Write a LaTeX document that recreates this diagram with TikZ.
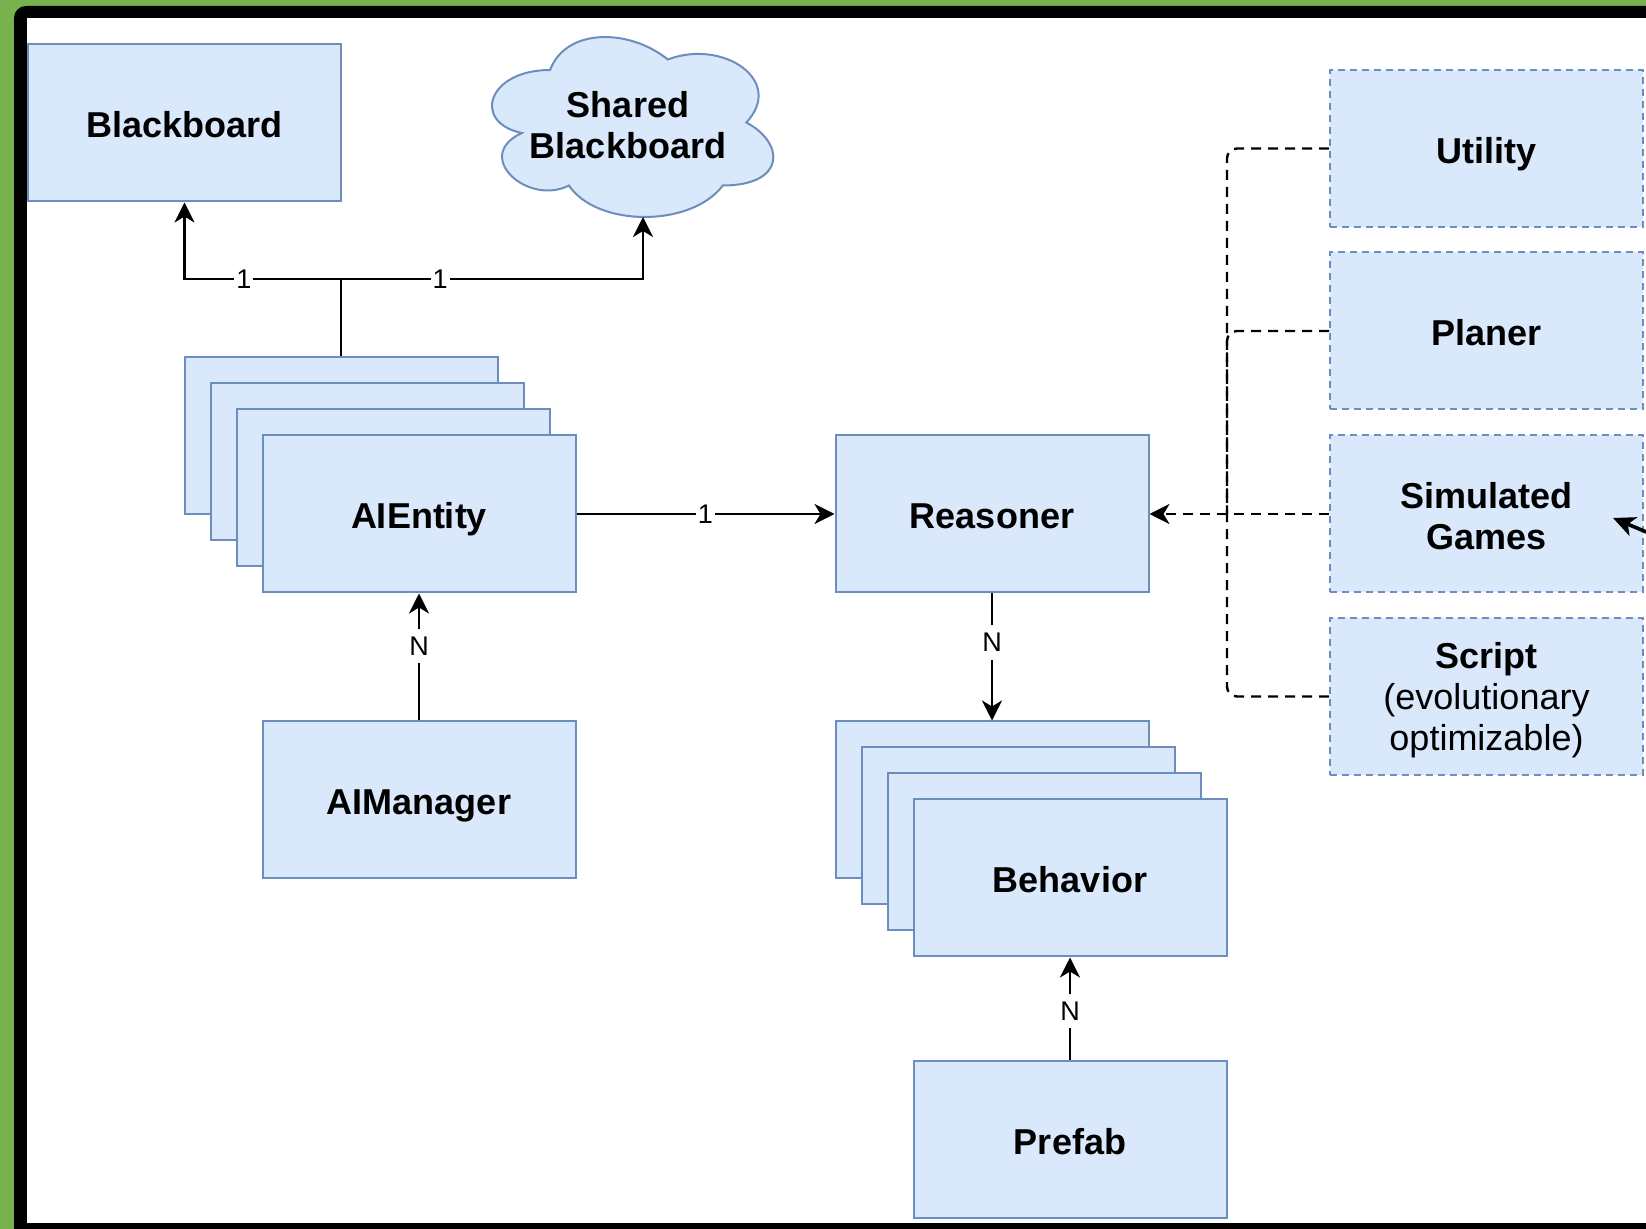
\documentclass[tikz,border=0pt]{standalone}
\usepackage{fontspec}
\setmainfont{Liberation Sans}
\usetikzlibrary{arrows.meta}
\definecolor{boxfill}{HTML}{DAE8FC}
\definecolor{boxline}{HTML}{6C8EBF}
\definecolor{framegreen}{RGB}{120,178,78}
\newcommand{\firstrule}{\rule{0pt}{17pt}}
\newcommand{\lastrule}{\rule[-2.1pt]{0pt}{2.1pt}}

\begin{document}
\begin{tikzpicture}[x=0.5pt,y=-0.5pt,
    box/.style={draw=boxline, fill=boxfill, line width=1pt, minimum width=156.5pt, minimum height=78.5pt,
      inner sep=0pt, align=center, font=\bfseries\fontsize{18}{20.5}\selectfont},
    single/.style={text height=17pt, text depth=2.1pt},
    option/.style={box, dash pattern=on 3.5pt off 2.5pt},
    link/.style={line width=1.3pt},
    arrowed/.style={-{Stealth[length=10pt,width=10pt,inset=3pt]}},
    dep/.style={line width=1.2pt, dash pattern=on 5pt off 3.5pt, rounded corners=5pt},
    lbl/.style={fill=white, inner xsep=1pt, inner ysep=4pt, font=\fontsize{13.5}{13.5}\selectfont}]
			% screenshot frame
			\path[use as bounding box, clip] (0,0) rectangle (1646,1229);
			\fill[framegreen] (0,0) rectangle (1646,1229);
			\fill[black, rounded corners=6pt] (14,6) rectangle (1720,1300);
			\fill[white] (27,18) rectangle (1720,1223);
			% blackboards
			\node[box,single] (blackboard) at (184.5,123) {Blackboard};
			\begin{scope}[shift={(471.6,17.5)}, x=157pt, y=-105pt]
				\draw[draw=boxline, fill=boxfill, line width=1pt] (0.25,0.25) .. controls (0.05,0.25) and (0,0.5) .. (0.16,0.55)
					.. controls (0,0.66) and (0.18,0.9) .. (0.31,0.8)
					.. controls (0.4,1) and (0.7,1) .. (0.8,0.8)
					.. controls (1,0.8) and (1,0.6) .. (0.875,0.5)
					.. controls (1,0.3) and (0.8,0.1) .. (0.625,0.2)
					.. controls (0.5,0.05) and (0.3,0.05) .. (0.25,0.25) -- cycle;
			\end{scope}
			\node[align=center, font=\bfseries\fontsize{18}{20.5}\selectfont] (shared) at (628,123.5) {\firstrule Shared\\Blackboard\lastrule};
			\coordinate (sharedIn) at (643,217);
			% entities
			\node[box] (entA) at (341,436) {};
			\node[box] (entB) at (367,462) {};
			\node[box] (entC) at (393,488) {};
			\node[box,single] (aientity) at (419,514) {AIEntity};
			\node[box,single] (aimanager) at (419,800) {AIManager};
			\node[box,single] (reasoner) at (992,514) {Reasoner};
			% behaviors
			\node[box] (behA) at (992,800) {};
			\node[box] (behB) at (1018,826) {};
			\node[box] (behC) at (1044,852) {};
			\node[box,single] (behavior) at (1070,878) {Behavior};
			\node[box,single] (prefab) at (1070,1139.5) {Prefab};
			% reasoning options
			\node[option,single] (utility) at (1486.5,148.5) {Utility};
			\node[option,single] (planer) at (1486.5,331) {Planer};
			\node[option] (simgames) at (1486.5,514) {\firstrule Simulated\\Games\lastrule};
			\node[option] (script) at (1486.5,696.5) {\firstrule Script\\{\mdseries (evolutionary}\\{\mdseries optimizable)}\lastrule};
			% connectors
			\coordinate (fork) at (341,279);
			\draw[link] (entA.north) -- (fork);
			\draw[link,arrowed] (fork) -| node[lbl,pos=0.31] {1} (blackboard.south);
			\draw[link,arrowed] (fork) -| node[lbl,pos=0.164] {1} (sharedIn);
			\draw[link,arrowed] (aientity.east) -- node[lbl] {1} (reasoner.west);
			\draw[link,arrowed] (aimanager.north) -- node[lbl,pos=0.585] {N} (aientity.south);
			\draw[link,arrowed] (reasoner.south) -- node[lbl,pos=0.385] {N} (behA.north);
			\draw[link,arrowed] (prefab.north) -- node[lbl,pos=0.48] {N} (behavior.south);
			\coordinate (bus) at (1227,514);
			\draw[dep] (utility.west) -| (bus);
			\draw[dep] (planer.west) -| (bus);
			\draw[dep] (script.west) -| (bus);
			\draw[dep,arrowed] (simgames.west) -- (reasoner.east);
			% incoming arrow cut by the screenshot
			\coordinate (feedStart) at (1713,560);
			\coordinate (feedEnd) at (1613,518);
			\draw[line width=1.8pt, -{Stealth[length=11pt,width=10pt,inset=3pt]}] (feedStart) -- (feedEnd);
		\end{tikzpicture}
\end{document}
